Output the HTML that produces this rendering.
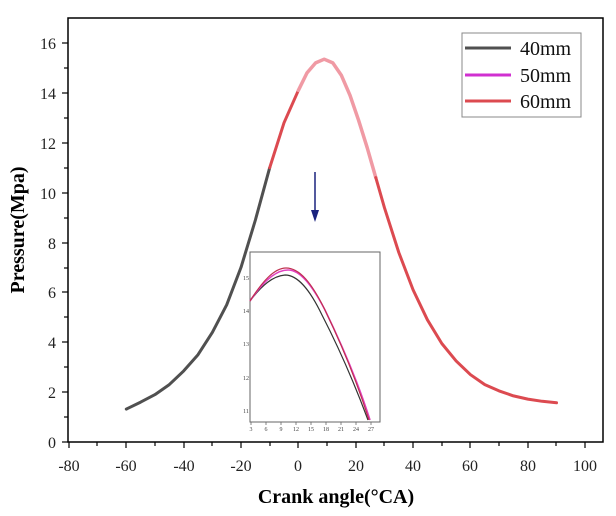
<!DOCTYPE html>
<html><head><meta charset="utf-8"><style>
body{margin:0;background:#fff;}
svg{display:block;font-family:"Liberation Serif",serif;}
</style></head><body>
<svg width="616" height="516" viewBox="0 0 616 516">
<rect x="68" y="18" width="535" height="424" fill="none" stroke="#000" stroke-width="1.5"/>
<g stroke="#000" stroke-width="1.2">
<line x1="69" y1="442" x2="69" y2="448"/><line x1="126" y1="442" x2="126" y2="448"/><line x1="184" y1="442" x2="184" y2="448"/><line x1="241" y1="442" x2="241" y2="448"/><line x1="298" y1="442" x2="298" y2="448"/><line x1="356" y1="442" x2="356" y2="448"/><line x1="413" y1="442" x2="413" y2="448"/><line x1="470" y1="442" x2="470" y2="448"/><line x1="528" y1="442" x2="528" y2="448"/><line x1="585" y1="442" x2="585" y2="448"/>
<line x1="97" y1="442" x2="97" y2="446"/><line x1="155" y1="442" x2="155" y2="446"/><line x1="212" y1="442" x2="212" y2="446"/><line x1="270" y1="442" x2="270" y2="446"/><line x1="327" y1="442" x2="327" y2="446"/><line x1="384" y1="442" x2="384" y2="446"/><line x1="442" y1="442" x2="442" y2="446"/><line x1="499" y1="442" x2="499" y2="446"/><line x1="556" y1="442" x2="556" y2="446"/>
<line x1="62" y1="442" x2="68" y2="442"/><line x1="62" y1="392" x2="68" y2="392"/><line x1="62" y1="342" x2="68" y2="342"/><line x1="62" y1="292" x2="68" y2="292"/><line x1="62" y1="243" x2="68" y2="243"/><line x1="62" y1="193" x2="68" y2="193"/><line x1="62" y1="143" x2="68" y2="143"/><line x1="62" y1="93" x2="68" y2="93"/><line x1="62" y1="43" x2="68" y2="43"/>
<line x1="64" y1="417" x2="68" y2="417"/><line x1="64" y1="367" x2="68" y2="367"/><line x1="64" y1="317" x2="68" y2="317"/><line x1="64" y1="268" x2="68" y2="268"/><line x1="64" y1="218" x2="68" y2="218"/><line x1="64" y1="168" x2="68" y2="168"/><line x1="64" y1="118" x2="68" y2="118"/><line x1="64" y1="68" x2="68" y2="68"/>
</g>
<g font-size="16" fill="#222" text-anchor="middle">
<text x="69" y="471">-80</text><text x="126" y="471">-60</text><text x="184" y="471">-40</text><text x="241" y="471">-20</text><text x="298" y="471">0</text><text x="356" y="471">20</text><text x="413" y="471">40</text><text x="470" y="471">60</text><text x="528" y="471">80</text><text x="585" y="471">100</text>
</g>
<g font-size="16" fill="#222" text-anchor="end">
<text x="56" y="448">0</text><text x="56" y="398">2</text><text x="56" y="348">4</text><text x="56" y="298">6</text><text x="56" y="249">8</text><text x="56" y="199">10</text><text x="56" y="149">12</text><text x="56" y="99">14</text><text x="56" y="49">16</text>
</g>
<text x="336" y="503" font-size="20" font-weight="bold" text-anchor="middle">Crank angle(°CA)</text>
<text transform="translate(24,230) rotate(-90)" font-size="20" font-weight="bold" text-anchor="middle">Pressure(Mpa)</text>
<g fill="none" stroke-width="3" stroke-linecap="round" stroke-linejoin="round">
<polyline points="126.3,409.1 140.7,402.1 155,394.6 169.3,384.6 183.7,370.9 198,354.7 212.4,332.3 226.7,304.8 241,267.4 255.4,220 269.7,167.7" stroke="#505050"/>
<polyline points="269.7,167.7 284,122.8 298.4,90.3" stroke="#dc4a50"/>
<polyline points="298.4,90.3 307,72.9 315.6,62.9 324.2,59.2 332.8,62.9 341.4,75.4 350,95.3 358.6,120.3 367.2,147.7 375.8,177.6" stroke="#f09aa4" stroke-width="3.5"/>
<polyline points="375.8,177.6 384.4,207.6 398.8,252.5 413.1,289.9 427.4,319.8 441.8,343.5 456.1,360.9 470.5,374.7 484.8,384.6 499.1,390.9 513.5,395.9 527.8,399.1 542.2,401.3 556.5,402.8" stroke="#dc4a50"/>
</g>
<rect x="250" y="252" width="130" height="170" fill="#fff" stroke="#666" stroke-width="1"/>
<g stroke="#666" stroke-width="0.8">
<line x1="251" y1="422" x2="251" y2="425"/><line x1="266" y1="422" x2="266" y2="425"/><line x1="281" y1="422" x2="281" y2="425"/><line x1="296" y1="422" x2="296" y2="425"/><line x1="311" y1="422" x2="311" y2="425"/><line x1="326" y1="422" x2="326" y2="425"/><line x1="341" y1="422" x2="341" y2="425"/><line x1="356" y1="422" x2="356" y2="425"/><line x1="371" y1="422" x2="371" y2="425"/>
</g>
<g font-size="6" fill="#444" text-anchor="middle">
<text x="251" y="431">3</text><text x="266" y="431">6</text><text x="281" y="431">9</text><text x="296" y="431">12</text><text x="311" y="431">15</text><text x="326" y="431">18</text><text x="341" y="431">21</text><text x="356" y="431">24</text><text x="371" y="431">27</text>
<text x="246" y="280">15</text><text x="246" y="313">14</text><text x="246" y="346">13</text><text x="246" y="380">12</text><text x="246" y="413">11</text>
</g>
<g fill="none" stroke-width="1.2">
<path d="M250,301 C262,285 273,276 285,275 C298,275 310,290 322,315 C340,350 355,385 368,420" stroke="#333"/>
<path d="M250,301 C262,283 275,270 288,270 C300,270 312,285 325,310 C342,345 358,382 370,420" stroke="#e040c0" stroke-width="1.6"/>
<path d="M250,301 C262,282 274,268 286,268 C300,268 312,284 324,308 C341,343 357,382 369,420" stroke="#c03050"/>
</g>
<line x1="315" y1="172" x2="315" y2="214" stroke="#1a237e" stroke-width="1.5"/>
<path d="M311,210 L315,222 L319,210 Z" fill="#1a237e"/>
<rect x="462" y="33" width="119" height="84" fill="#fff" stroke="#888" stroke-width="1"/>
<g stroke-width="3">
<line x1="465" y1="48" x2="511" y2="48" stroke="#505050"/>
<line x1="465" y1="75" x2="511" y2="75" stroke="#d030d0"/>
<line x1="465" y1="101" x2="511" y2="101" stroke="#dc4a50"/>
</g>
<g font-size="20" fill="#111">
<text x="520" y="55">40mm</text><text x="520" y="82">50mm</text><text x="520" y="108">60mm</text>
</g>
</svg>
</body></html>
